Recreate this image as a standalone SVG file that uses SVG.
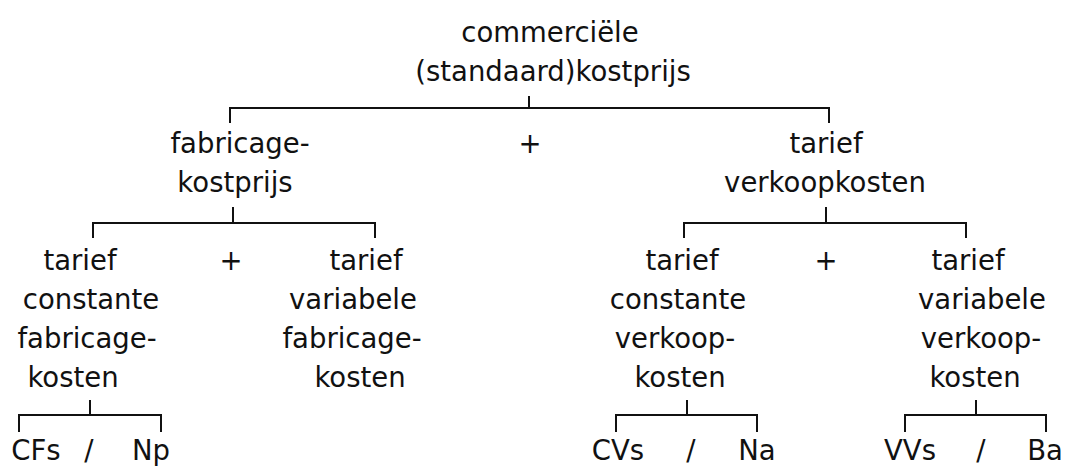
<svg xmlns="http://www.w3.org/2000/svg" width="1066" height="466" viewBox="0 0 1066 466">
<style>
text{font-family:"DejaVu Sans","Liberation Sans",sans-serif;font-size:27.5px;fill:#111;text-anchor:middle}
.c path{stroke:#111;stroke-width:2;fill:none}
</style>
<rect width="1066" height="466" fill="#fff"/>
<g class="c" id="connectors">
<path d="M230,123 V108 H829 V123 M529,96 V108"/>
<path d="M93,238 V223 H375 V238 M233,207 V223"/>
<path d="M684,238 V223 H966 V238 M826,207 V223"/>
<path d="M19,432 V415 H161 V432 M90,400 V415"/>
<path d="M616,432 V415 H757 V432 M687,400 V415"/>
<path d="M905,432 V415 H1046 V432 M976,400 V415"/>
</g>
<g id="root"><text x="550" y="42">commerciële</text><text x="553" y="81">(standaard)kostprijs</text></g>
<g id="fabricage"><text x="240" y="153">fabricage-</text><text x="235" y="192">kostprijs</text></g>
<g id="plus1"><text x="530" y="153">+</text></g>
<g id="verkoop"><text x="826" y="153">tarief</text><text x="825" y="192">verkoopkosten</text></g>
<g id="tcf"><text x="80" y="270">tarief</text><text x="91" y="309">constante</text><text x="87" y="348">fabricage-</text><text x="73" y="387">kosten</text></g>
<g id="plus2"><text x="231" y="270">+</text></g>
<g id="tvf"><text x="366" y="270">tarief</text><text x="353" y="309">variabele</text><text x="352" y="348">fabricage-</text><text x="360" y="387">kosten</text></g>
<g id="tcv"><text x="682" y="270">tarief</text><text x="678" y="309">constante</text><text x="675" y="348">verkoop-</text><text x="680" y="387">kosten</text></g>
<g id="plus3"><text x="826" y="270">+</text></g>
<g id="tvv"><text x="968" y="270">tarief</text><text x="982" y="309">variabele</text><text x="981" y="348">verkoop-</text><text x="975" y="387">kosten</text></g>
<g id="f1"><text x="36" y="460">CFs</text><text x="89" y="460">/</text><text x="151" y="460">Np</text></g>
<g id="f2"><text x="618" y="460">CVs</text><text x="691" y="460">/</text><text x="757" y="460">Na</text></g>
<g id="f3"><text x="910" y="460">VVs</text><text x="981" y="460">/</text><text x="1045" y="460">Ba</text></g>
</svg>
